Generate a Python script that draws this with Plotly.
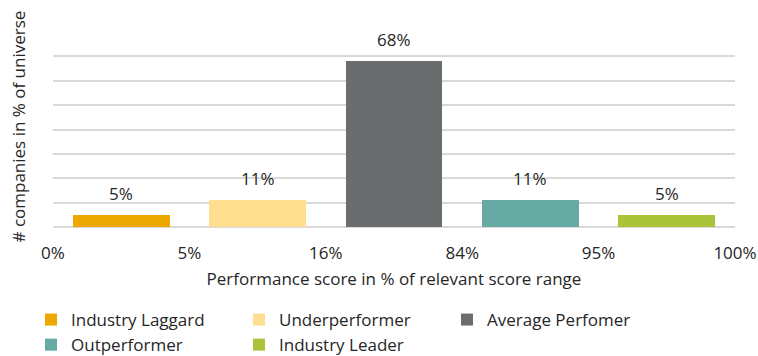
import numpy as np
import plotly.graph_objects as go

# Performance groups and share of companies in each (%)
groups = ["Industry Laggard", "Underperformer", "Average Perfomer", "Outperformer", "Industry Leader"]
shares = [5, 11, 68, 11, 5]
colors = ["#EEA900", "#FFDE8F", "#6A6D6D", "#67A9A3", "#A9C438"]

# Score-range boundaries between groups
boundary_labels = ["0%", "5%", "16%", "84%", "95%", "100%"]

FONT = "Open Sans"
SIZE = 17
TEXT = "#262626"

pos = np.arange(len(groups)) + 0.5

fig = go.Figure()
for i, (g, v, c) in enumerate(zip(groups, shares, colors)):
    fig.add_trace(go.Bar(
        x=[pos[i]], y=[v], name=g, marker=dict(color=c, line=dict(width=0)),
        width=0.71, showlegend=True,
    ))
    fig.add_annotation(
        x=pos[i], y=v, text=f"{v}%", showarrow=False, yanchor="bottom",
        yshift=8, font=dict(family=FONT, size=SIZE, color=TEXT),
    )

fig.add_annotation(
    xref="paper", yref="paper", x=0, y=0.5, xshift=-35, yshift=3,
    xanchor="center", yanchor="middle", textangle=-90,
    text="# companies in % of universe", showarrow=False,
    font=dict(family=FONT, size=SIZE, color=TEXT),
)

fig.update_layout(
    width=758, height=356,
    margin=dict(l=53, r=23, t=32, b=129),
    paper_bgcolor="white", plot_bgcolor="white",
    font=dict(family=FONT, size=SIZE, color=TEXT),
    bargap=0,
    showlegend=True,
    legend=dict(
        orientation="h", xref="container", yref="container",
        x=31 / 758, xanchor="left", y=1 - 302 / 356, yanchor="top",
        entrywidth=163, entrywidthmode="pixels", traceorder="normal",
        tracegroupgap=0, itemclick=False,
        font=dict(family=FONT, size=SIZE, color=TEXT),
    ),
    xaxis=dict(
        range=[0, len(groups)], tickmode="array",
        tickvals=list(range(len(boundary_labels))), ticktext=boundary_labels,
        showgrid=False, zeroline=False, showline=False, ticks="",
        ticklabelstandoff=14, ticklabeloverflow="allow", automargin=False,
        title=dict(text="Performance score in % of relevant score range", standoff=10,
                   font=dict(family=FONT, size=SIZE, color=TEXT)),
        fixedrange=True,
    ),
    yaxis=dict(
        range=[0, 80], dtick=10, showticklabels=False, ticks="",
        showgrid=True, gridcolor="#D9D9D9", gridwidth=1.5,
        zeroline=True, zerolinecolor="#D9D9D9", zerolinewidth=1.5,
        showline=False, fixedrange=True, automargin=False,
    ),
)

fig.write_html("out.html")
